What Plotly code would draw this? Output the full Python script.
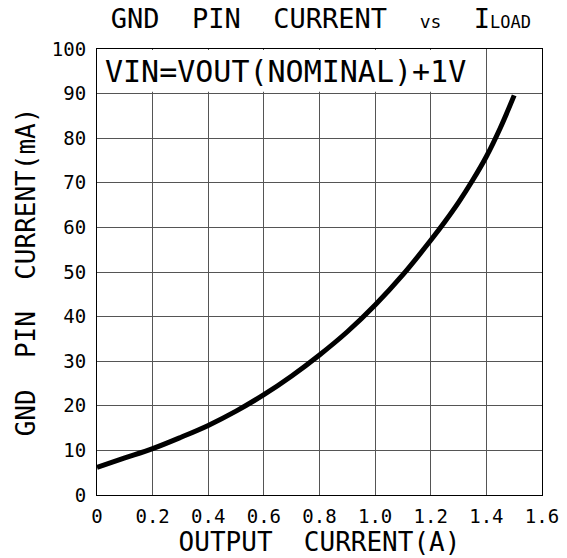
import plotly.graph_objects as go

# Data
output_current_a = [0.0, 0.1, 0.2, 0.3, 0.4, 0.5, 0.6, 0.7, 0.8, 0.9, 1.0, 1.1, 1.2, 1.25, 1.3, 1.35, 1.4, 1.45, 1.5]
gnd_pin_current_ma = [6.2, 8.3, 10.4, 12.9, 15.6, 18.8, 22.5, 26.7, 31.4, 36.6, 42.6, 49.4, 57.1, 61.2, 65.6, 70.5, 75.9, 82.3, 89.6]

x_ticks = [0, 0.2, 0.4, 0.6, 0.8, 1.0, 1.2, 1.4, 1.6]
x_tick_labels = ["0", "0.2", "0.4", "0.6", "0.8", "1.0", "1.2", "1.4", "1.6"]
y_ticks = [0, 10, 20, 30, 40, 50, 60, 70, 80, 90, 100]

FONT = "DejaVu Sans Mono"

fig = go.Figure()
fig.add_trace(go.Scatter(
    x=output_current_a, y=gnd_pin_current_ma, mode="lines",
    line=dict(color="black", width=5, shape="spline", smoothing=1.0),
    showlegend=False, hoverinfo="skip",
))

# white box behind the condition text, hiding grid lines in the top band
fig.add_shape(type="rect", xref="x", yref="y", x0=0.002, x1=1.395, y0=90.4, y1=99.8,
              fillcolor="white", line=dict(width=0), layer="between")

fig.add_annotation(
    x=0.02, y=95, xref="x", yref="y", xanchor="left", yanchor="middle",
    text="VIN=VOUT(NOMINAL)+1V", showarrow=False,
    font=dict(family=FONT, size=30, color="black"),
)

fig.update_layout(
    width=567, height=558,
    margin=dict(l=97, r=25, t=49, b=63),
    paper_bgcolor="white", plot_bgcolor="white",
    title=dict(
        text="GND  PIN  CURRENT  <span style='font-size:18px'>vs</span>  I<span style='font-size:17px'>LOAD</span>",
        x=0.566, xanchor="center", y=0.967, yanchor="middle",
        font=dict(family=FONT, size=27, color="black"),
    ),
    font=dict(family=FONT, color="black"),
)

fig.update_xaxes(
    range=[0, 1.6], tickvals=x_ticks, ticktext=x_tick_labels,
    showgrid=True, gridcolor="#555", gridwidth=1,
    showline=True, linecolor="black", linewidth=1, mirror=True,
    zeroline=False, ticks="", ticklabelstandoff=4, automargin=False,
    tickfont=dict(family=FONT, size=19, color="black"),
    title=dict(text="OUTPUT  CURRENT(A)", font=dict(family=FONT, size=26, color="black"), standoff=3),
)
fig.update_yaxes(
    range=[0, 100], tickvals=y_ticks,
    showgrid=True, gridcolor="#555", gridwidth=1,
    showline=True, linecolor="black", linewidth=1, mirror=True,
    zeroline=False, ticks="", ticklabelstandoff=6, automargin=False,
    tickfont=dict(family=FONT, size=19, color="black"),
    title=dict(text="GND  PIN  CURRENT(mA)", font=dict(family=FONT, size=26, color="black"), standoff=8),
)

fig.write_html("out.html", config={"displayModeBar": False},
               post_script="document.body.style.margin='0';")
